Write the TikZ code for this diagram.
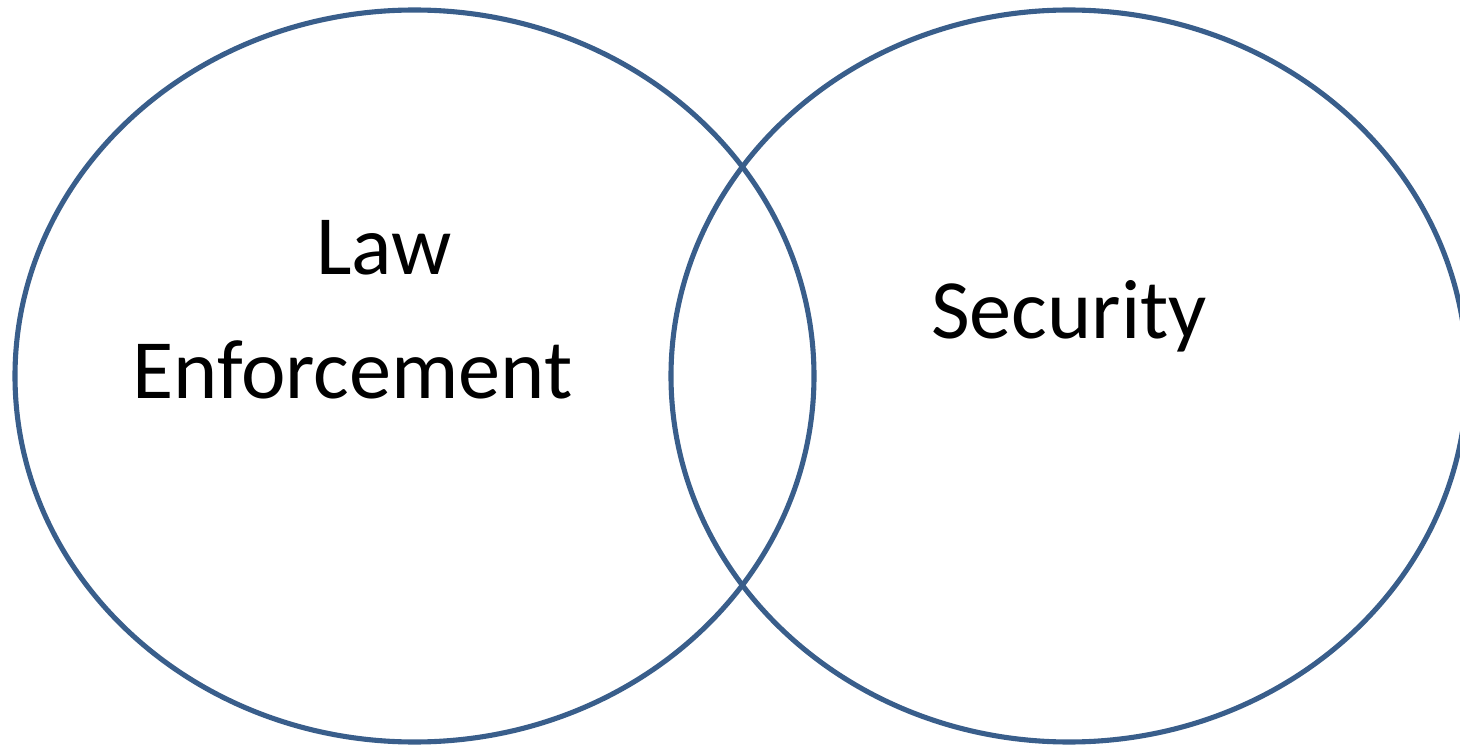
\documentclass[tikz,border=0pt]{standalone}
\usepackage{fontspec}
\setmainfont{Carlito}
\usepackage{tikz}

\definecolor{ringblue}{RGB}{57,94,139}

\begin{document}
\begin{tikzpicture}[ring/.style={draw=ringblue,line width=1.45pt},
		label/.style={anchor=base,font=\fontsize{24}{29}\selectfont}]
		\useasboundingbox (0,0) rectangle (14.60,7.47);
		
		\draw [ring] (4.145,3.71) ellipse (3.995 and 3.66);
		\draw [ring] (10.69,3.71) ellipse (3.98 and 3.66);
		
		\node (law) [label] at (3.84,4.72) {Law};
		\node (enforcement) [label] at (3.525,3.49) {Enforcement};
		\node (security) [label] at (10.69,4.09) {Security};
		\end{tikzpicture}
\end{document}
